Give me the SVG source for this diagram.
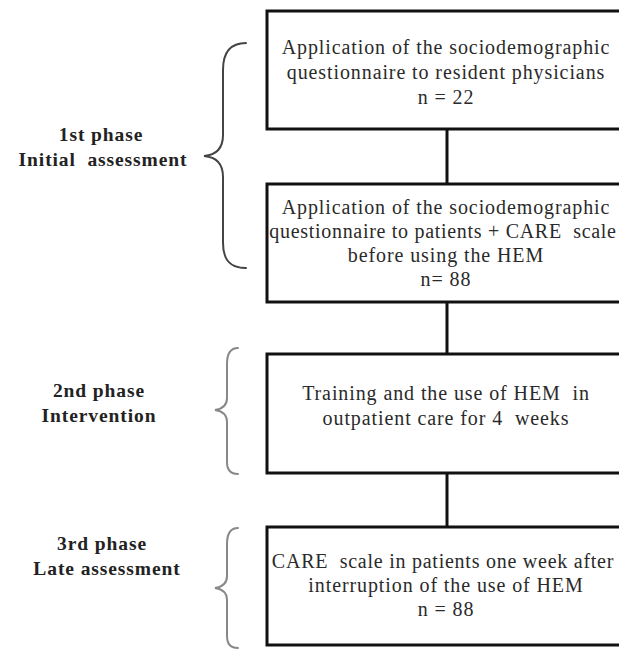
<svg xmlns="http://www.w3.org/2000/svg" width="619" height="649" viewBox="0 0 619 649">
<style>
.box{fill:#fff;stroke:#111;stroke-width:3}
.t{font-family:"Liberation Serif","Times New Roman",serif;font-size:20px;letter-spacing:0.9px;fill:#2a2a2a;text-anchor:middle;white-space:pre}
.p{font-family:"Liberation Serif","Times New Roman",serif;font-size:19.5px;font-weight:bold;letter-spacing:0.9px;fill:#222;text-anchor:middle;white-space:pre}
.br{fill:none;stroke-width:2;stroke-linecap:round}
.c{stroke:#111;stroke-width:3;fill:none}
</style>
<rect width="619" height="649" fill="#fff"/>
<g id="connectors">
<line class="c" x1="447" y1="129" x2="447" y2="184"/>
<line class="c" x1="447" y1="302" x2="447" y2="354"/>
<line class="c" x1="447" y1="473" x2="447" y2="527"/>
</g>
<g id="node1">
<rect class="box" x="267" y="11" width="360" height="118"/>
<text class="t" x="446" y="54">Application of the sociodemographic</text>
<text class="t" x="446" y="79">questionnaire to resident physicians</text>
<text class="t" x="446" y="104">n = 22</text>
</g>
<g id="node2">
<rect class="box" x="267" y="184" width="360" height="118"/>
<text class="t" x="446" y="214">Application of the sociodemographic</text>
<text class="t" x="443" y="238" style="letter-spacing:0.7px">questionnaire to patients + CARE  scale</text>
<text class="t" x="446" y="262">before using the HEM</text>
<text class="t" x="446" y="286">n= 88</text>
</g>
<g id="node3">
<rect class="box" x="267" y="354" width="360" height="119"/>
<text class="t" x="446" y="400">Training and the use of HEM  in</text>
<text class="t" x="446" y="425">outpatient care for 4  weeks</text>
</g>
<g id="node4">
<rect class="box" x="267" y="527" width="360" height="118"/>
<text class="t" x="443" y="568" style="letter-spacing:0.75px">CARE  scale in patients one week after</text>
<text class="t" x="446" y="592">interruption of the use of HEM</text>
<text class="t" x="446" y="616">n = 88</text>
</g>
<g id="phase1">
<path class="br" stroke="#444" d="M246,43 C230,43 223,52 223,70 L223,135 C223,148 216,155 204,156 C216,157 223,164 223,177 L223,243 C223,260 230,268 246,268"/>
<text class="p" x="101" y="141">1st phase</text>
<text class="p" x="103" y="166">Initial  assessment</text>
</g>
<g id="phase2">
<path class="br" stroke="#888" d="M238,348 C230,348 227,354 227,364 L227,398 C227,405 222,409 215,410 C222,411 227,415 227,422 L227,462 C227,470 230,474 238,474"/>
<text class="p" x="99" y="397">2nd phase</text>
<text class="p" x="99" y="422">Intervention</text>
</g>
<g id="phase3">
<path class="br" stroke="#888" d="M238,528 C230,528 227,534 227,544 L227,576 C227,583 222,587 215,588 C222,589 227,593 227,600 L227,636 C227,644 230,648 238,648"/>
<text class="p" x="102" y="550">3rd phase</text>
<text class="p" x="107" y="575">Late assessment</text>
</g>
</svg>
